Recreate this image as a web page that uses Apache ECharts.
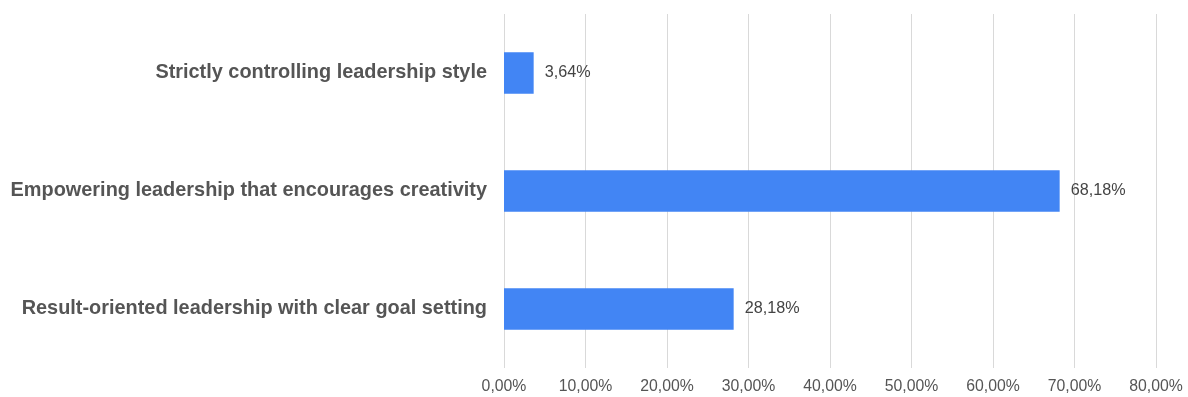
<!DOCTYPE html>
<html>
<head>
<meta charset="utf-8">
<script src="https://cdn.jsdelivr.net/npm/echarts@6/dist/echarts.min.js"></script>
<style>html,body{margin:0;padding:0;background:#fff}#c{width:1188px;height:397px}</style>
</head>
<body>
<div id="c"></div>
<script>
const categories = ["Result-oriented leadership with clear goal setting", "Empowering leadership that encourages creativity", "Strictly controlling leadership style"];
const values = [28.18, 68.18, 3.64];
const fmt = v => v.toFixed(2).replace('.', ',') + '%';
const chart = echarts.init(document.getElementById('c'));
chart.setOption({
  animation: false,
  grid: {left: 504, right: 32, top: 14, bottom: 29},
  xAxis: {
    type: 'value', min: 0, max: 80, interval: 10,
    axisLine: {show: false}, axisTick: {show: false},
    splitLine: {lineStyle: {color: '#d9d9d9', width: 1}},
    axisLabel: {formatter: v => fmt(v), color: '#555', fontSize: 15.8, fontFamily: 'Liberation Sans, Arial', margin: 11}
  },
  yAxis: {
    type: 'category', data: categories,
    axisLine: {show: false}, axisTick: {show: false},
    axisLabel: {color: '#555', fontSize: 19.9, fontWeight: 'bold', fontFamily: 'Liberation Sans, Arial', margin: 17, padding: [3, 0, 0, 0]}
  },
  series: [{
    type: 'bar', data: values, barCategoryGap: '65%',
    itemStyle: {color: '#4285f4'},
    label: {show: true, position: 'right', distance: 11, formatter: p => fmt(p.value), color: '#444', fontSize: 16.2, fontFamily: 'Liberation Sans, Arial', padding: [3, 0, 0, 0]}
  }]
});
</script>
</body>
</html>
